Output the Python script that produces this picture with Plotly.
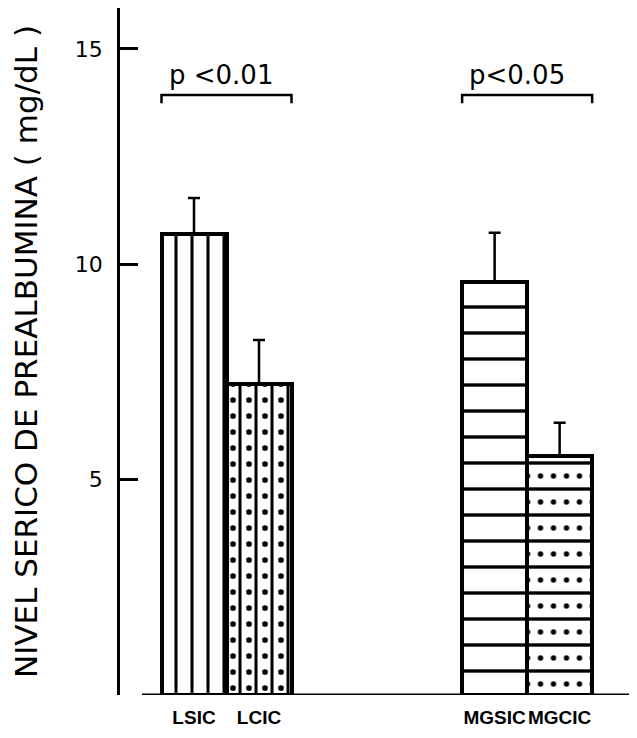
import plotly.graph_objects as go

# ---------------- data ----------------
categories = ["LSIC", "LCIC", "MGSIC", "MGCIC"]
means = [10.70, 7.22, 9.59, 5.55]
sem = [0.84, 1.02, 1.14, 0.77]
comparisons = [("LSIC", "LCIC", "p <0.01"), ("MGSIC", "MGCIC", "p<0.05")]
y_ticks = [5, 10, 15]
y_title = "NIVEL SERICO DE PREALBUMINA ( mg/dL )"

# ---------------- layout constants ----------------
# the page body has an 8px margin, so the figure is sized/offset to compensate
W_FIG, H_FIG = 629, 730
M_L, M_R, M_T, M_B = 112, 0, 0, 43
W = W_FIG - M_L - M_R
H = H_FIG - M_T - M_B
x_pos = [1.0, 2.0, 5.625, 6.625]
bar_w = 1.0
PPX = 65.0
XMIN = 1.0 - 74.0 / PPX
XMAX = XMIN + W / PPX
YMAX = 15.95
PPY = H / YMAX

idx = {c: i for i, c in enumerate(categories)}

fig = go.Figure()

# main bars: outline, background pattern (lines), error bars
fig.add_trace(go.Bar(
    x=x_pos, y=means, width=bar_w,
    marker=dict(
        color="white",
        line=dict(color="black", width=4),
        pattern=dict(shape=["|", "|", "-", "-"], size=[16, 16, 26, 26],
                     solidity=[0.19, 0.19, 0.13, 0.13],
                     fgcolor="black", bgcolor="white", fgopacity=1),
    ),
    error_y=dict(type="data", symmetric=False, array=sem, arrayminus=[0] * 4,
                 color="black", thickness=2.5, width=6),
    showlegend=False, hoverinfo="skip",
))

# dotted overlays, each in a pixel-shifted twin subplot so the dot grid sits between lines
dot_layers = [
    ("LCIC", 9.0, 0.0, 16, 0.10),
    ("MGCIC", 4.5, 13.0, 26, 0.034),
    ("MGCIC", 17.5, 13.0, 26, 0.034),
]
for k, (cat, dx, dy, size, sol) in enumerate(dot_layers, start=2):
    i = idx[cat]
    fig.add_trace(go.Bar(
        x=[x_pos[i]], y=[means[i]], width=bar_w,
        xaxis=f"x{k}", yaxis=f"y{k}",
        marker=dict(color="rgba(0,0,0,0)", line=dict(width=0),
                    pattern=dict(shape=".", size=size, solidity=sol,
                                 fgcolor="black", bgcolor="rgba(0,0,0,0)", fgopacity=1)),
        showlegend=False, hoverinfo="skip",
    ))
    fig.update_layout(**{
        f"xaxis{k}": dict(domain=[dx / W, 1], range=[XMIN + dx / PPX, XMAX], visible=False,
                          anchor=f"y{k}"),
        f"yaxis{k}": dict(domain=[0, 1 - dy / H], range=[0, YMAX - dy / PPY], visible=False,
                          anchor=f"x{k}"),
    })

# significance brackets
shapes = []
annotations = []
for a, b, label in comparisons:
    x0 = x_pos[idx[a]] - bar_w / 2
    x1 = x_pos[idx[b]] + bar_w / 2
    shapes.append(dict(type="path", xref="x", yref="y",
                       path=f"M{x0},13.74 L{x0},13.93 L{x1},13.93 L{x1},13.74",
                       line=dict(color="black", width=2.5)))
    annotations.append(dict(x=x0 + 0.08, y=14.40, xref="x", yref="y", text=label,
                            showarrow=False, xanchor="left", yanchor="middle",
                            font=dict(family="DejaVu Sans", size=26, color="black")))

# baseline (x axis line, starts right of y axis)
shapes.append(dict(type="line", xref="paper", yref="y", x0=22 / W, x1=1, y0=0, y1=0,
                   line=dict(color="black", width=3)))

fig.update_layout(
    width=W_FIG, height=H_FIG,
    margin=dict(l=M_L, r=M_R, t=M_T, b=M_B, autoexpand=False),
    paper_bgcolor="white", plot_bgcolor="rgba(0,0,0,0)",
    bargap=0, barmode="overlay",
    xaxis=dict(range=[XMIN, XMAX], tickvals=x_pos, ticktext=categories, ticks="",
               tickangle=0,
               showline=False, showgrid=False, zeroline=False, ticklabelstandoff=9,
               tickfont=dict(family="Liberation Sans", size=19,
                             color="black", weight="bold")),
    yaxis=dict(range=[0, YMAX], tickvals=y_ticks, ticks="inside", ticklen=18, tickwidth=2.5,
               tickcolor="black", showline=True, linewidth=2.5, linecolor="black",
               showgrid=False, zeroline=False, ticklabelstandoff=10,
               tickfont=dict(family="DejaVu Sans", size=22, color="black"),
               title=dict(text=y_title, standoff=34,
                          font=dict(family="DejaVu Sans", size=31, color="black"))),
    shapes=shapes, annotations=annotations,
    font=dict(family="DejaVu Sans", color="black"),
)

fig.write_html("out.html")
